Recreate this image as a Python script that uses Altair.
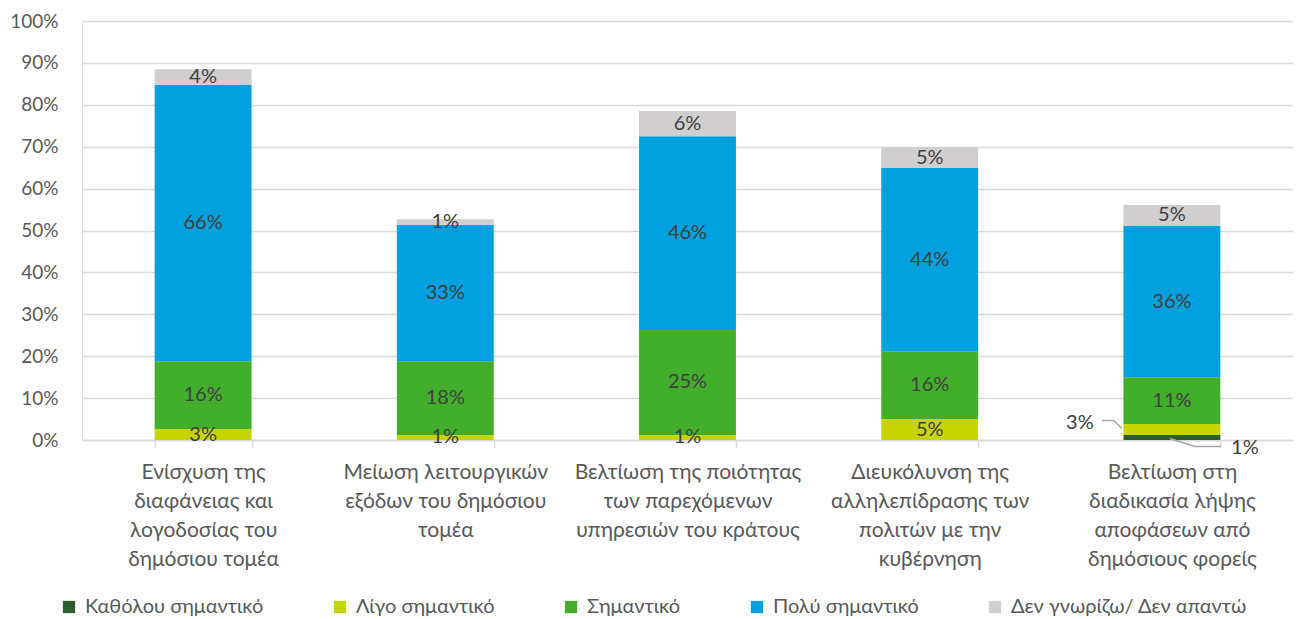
import altair as alt
import pandas as pd

categories = [
    "Ενίσχυση της\nδιαφάνειας και\nλογοδοσίας του\nδημόσιου τομέα",
    "Μείωση λειτουργικών\nεξόδων του δημόσιου\nτομέα",
    "Βελτίωση της ποιότητας\nτων παρεχόμενων\nυπηρεσιών του κράτους",
    "Διευκόλυνση της\nαλληλεπίδρασης των\nπολιτών με την\nκυβέρνηση",
    "Βελτίωση στη\nδιαδικασία λήψης\nαποφάσεων από\nδημόσιους φορείς",
]
series = ["Καθόλου σημαντικό", "Λίγο σημαντικό", "Σημαντικό", "Πολύ σημαντικό", "Δεν γνωρίζω/ Δεν απαντώ"]
colors = ["#2E5B32", "#C6D500", "#43AE2B", "#00A1DE", "#D0CECE"]

katholou = [0, 0, 0, 0, 1.2]
ligo = [2.6, 1.2, 1.2, 5.0, 2.6]
simantiko = [16.2, 17.6, 25.3, 16.2, 11.2]
poly = [65.9, 32.6, 46.0, 43.7, 36.1]
den_gnorizo = [3.8, 1.3, 6.0, 5.0, 5.0]

values = [katholou, ligo, simantiko, poly, den_gnorizo]
rows = []
for si, s in enumerate(series):
    for ci, c in enumerate(categories):
        rows.append({"cat": c, "ci": ci, "series": s, "si": si, "value": values[si][ci]})
df = pd.DataFrame(rows)

FONT = "Lato"
TXT = "#404040"
AX = "#595959"

base = alt.Chart(df).transform_stack(
    stack="value", groupby=["cat"], sort=[alt.SortField("si", order="ascending")], as_=["y0", "y1"]
).transform_calculate(
    mid="(datum.y0 + datum.y1) / 2", lbl="round(datum.value) + '%'"
)

xenc = alt.X(
    "cat:N",
    sort=categories,
    title=None,
    scale=alt.Scale(paddingInner=0.6, paddingOuter=0.3),
    axis=alt.Axis(
        labelAngle=0,
        labelExpr="split(datum.label, '\\n')",
        labelFont=FONT,
        labelFontSize=21,
        labelColor=AX,
        labelLineHeight=29,
        labelPadding=13,
        labelBaseline="top",
        labelLimit=400,
        domainColor="#D9D9D9",
        domainWidth=1.5,
        tickColor="#D9D9D9",
        tickWidth=1.5,
        tickSize=8,
        tickBand="extent",
        grid=False,
    ),
)

yscale = alt.Scale(domain=[0, 100], nice=False)

bars = base.mark_bar().encode(
    x=xenc,
    y=alt.Y(
        "y0:Q",
        scale=yscale,
        title=None,
        axis=alt.Axis(
            values=list(range(0, 101, 10)),
            labelExpr="datum.value + '%'",
            labelFont=FONT,
            labelFontSize=19,
            labelColor=AX,
            labelPadding=24,
            domain=False,
            ticks=False,
            gridColor="#D9D9D9",
            gridWidth=1.5,
        ),
    ),
    y2="y1:Q",
    color=alt.Color(
        "series:N",
        scale=alt.Scale(domain=series, range=colors),
        legend=alt.Legend(
            title=None,
            orient="none",
            direction="horizontal",
            legendX=-23,
            legendY=576,
            symbolType="square",
            symbolSize=150,
            symbolStrokeWidth=0,
            labelFont=FONT,
            labelFontSize=20,
            labelColor=AX,
            labelOffset=6,
            labelLimit=400,
            columnPadding=66,
        ),
    ),
)

labels = base.transform_filter(
    "datum.value > 0 && !(datum.ci == 4 && datum.si < 2)"
).mark_text(font=FONT, fontSize=20, color=TXT, baseline="middle").encode(
    x=alt.X("cat:N", sort=categories), y=alt.Y("mid:Q", scale=yscale), text="lbl:N"
)

call_yel = base.transform_filter("datum.ci == 4 && datum.si == 1")
call_dk = base.transform_filter("datum.ci == 4 && datum.si == 0")

enc_pt = dict(x=alt.X("cat:N", sort=categories), y=alt.Y("mid:Q", scale=yscale), text="lbl:N")
enc_rule = dict(x=alt.X("cat:N", sort=categories), x2="cat:N", y=alt.Y("mid:Q", scale=yscale), y2="mid:Q")

t_yel = call_yel.mark_text(font=FONT, fontSize=20, color=TXT, baseline="middle", dx=-92, dy=-7).encode(**enc_pt)
t_dk = call_dk.mark_text(font=FONT, fontSize=20, color=TXT, baseline="middle", dx=73, dy=11).encode(**enc_pt)

RC = "#A6A6A6"
r1 = call_yel.mark_rule(color=RC, strokeWidth=1.5, xOffset=-70, x2Offset=-58, yOffset=-9, y2Offset=-9).encode(**enc_rule)
r2 = call_yel.mark_rule(color=RC, strokeWidth=1.5, xOffset=-58, x2Offset=-50, yOffset=-9, y2Offset=-1).encode(**enc_rule)
r3 = call_dk.mark_rule(color=RC, strokeWidth=1.5, xOffset=-2, x2Offset=23, yOffset=1, y2Offset=9).encode(**enc_rule)
r4 = call_dk.mark_rule(color=RC, strokeWidth=1.5, xOffset=23, x2Offset=49, yOffset=9, y2Offset=9).encode(**enc_rule)

chart = alt.layer(bars, labels, t_yel, t_dk, r1, r2, r3, r4).properties(
    width=1211,
    height=419,
    autosize=alt.AutoSizeParams(type="none"),
    padding={"left": 74, "top": 13, "right": 0, "bottom": 179},
).configure_view(stroke=None).configure(background="white")

chart.save("out.html", embed_options={"renderer": "svg", "actions": False})
